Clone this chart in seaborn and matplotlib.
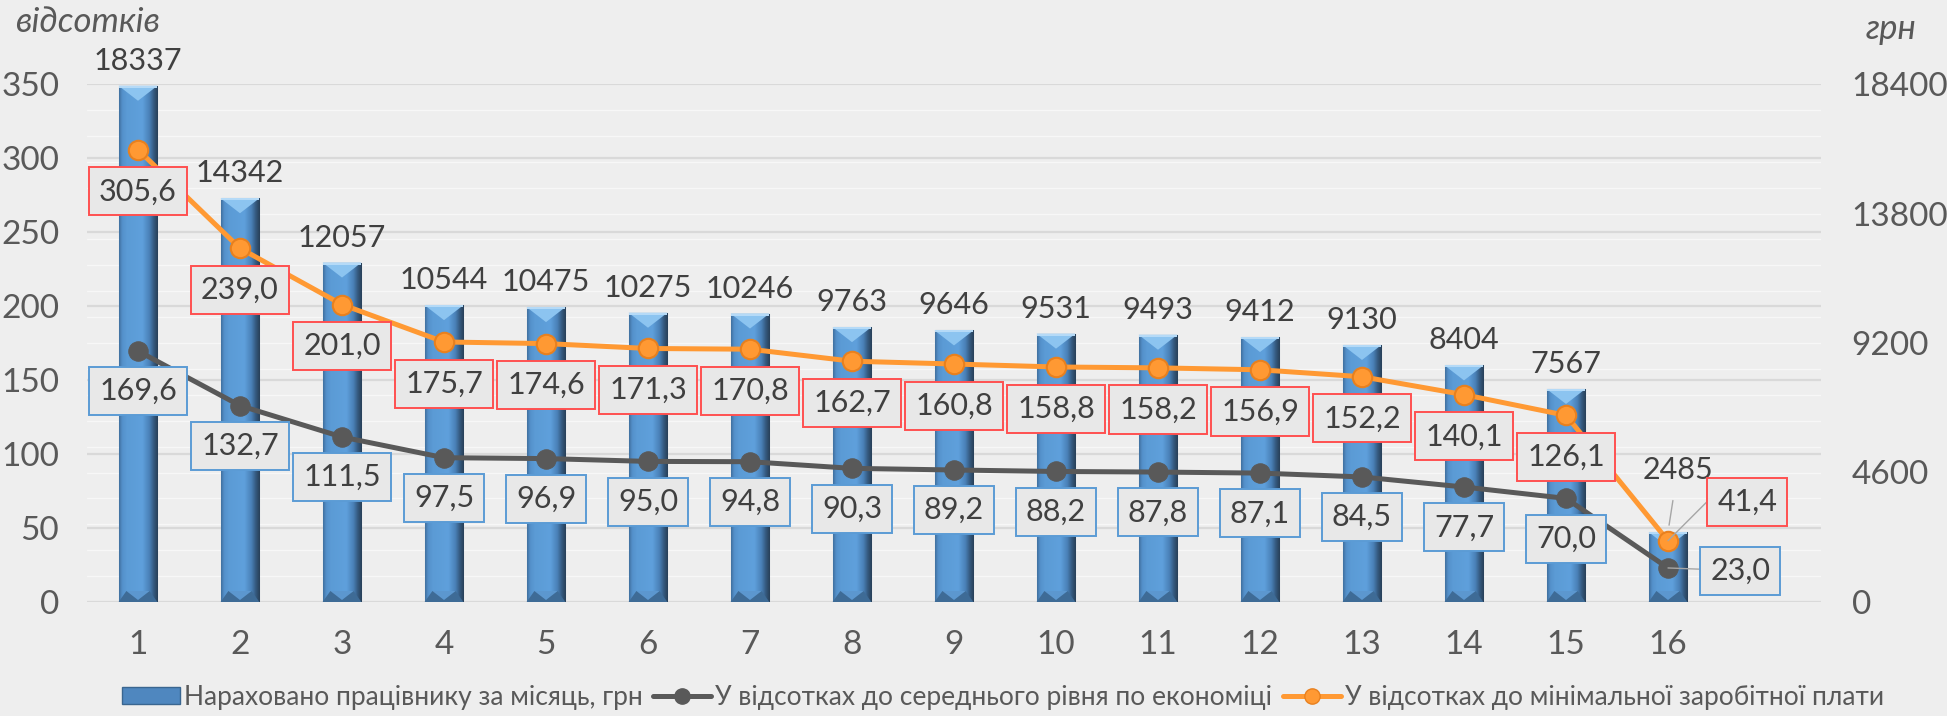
import numpy as np
import pandas as pd
import matplotlib
matplotlib.use("Agg")
import matplotlib.pyplot as plt
import seaborn as sns
from matplotlib.colors import LinearSegmentedColormap
from matplotlib.patches import Polygon, Patch
from matplotlib.lines import Line2D

# ---------------- data ----------------
categories = [str(i) for i in range(1, 17)]
salary = [18337, 14342, 12057, 10544, 10475, 10275, 10246, 9763,
          9646, 9531, 9493, 9412, 9130, 8404, 7567, 2485]
pct_avg = [169.6, 132.7, 111.5, 97.5, 96.9, 95.0, 94.8, 90.3,
           89.2, 88.2, 87.8, 87.1, 84.5, 77.7, 70.0, 23.0]
pct_min = [305.6, 239.0, 201.0, 175.7, 174.6, 171.3, 170.8, 162.7,
           160.8, 158.8, 158.2, 156.9, 152.2, 140.1, 126.1, 41.4]
left_ticks = [0, 50, 100, 150, 200, 250, 300, 350]
right_ticks = [0, 4600, 9200, 13800, 18400]
name_bar = "Нараховано працівнику за місяць, грн"
name_avg = "У відсотках до середнього рівня по економіці"
name_min = "У відсотках до мінімальної заробітної плати"
title_left = "відсотків"
title_right = "грн"

# ---------------- style ----------------
sns.set_theme(style="white")
plt.rcParams["font.family"] = ["Lato", "DejaVu Sans"]
BG = "#EEEEEE"
TXT = "#595959"
LBL = "#404040"
GREY = "#595959"
ORANGE = "#FF9933"
BLUE = "#5B9BD5"
TICK_FS = 24
LBL_FS = 22
BAR_FS = 22

W, H = 1947, 716
fig = plt.figure(figsize=(W / 100, H / 100), dpi=100, facecolor=BG)
ax = fig.add_axes([87 / W, 1 - 602 / H, (1821 - 87) / W, (602 - 84) / H])
ax.set_facecolor(BG)

df = pd.DataFrame({"cat": categories, "salary": salary,
                   "avg": pct_avg, "min": pct_min})
df["pos"] = np.arange(len(df))

sns.barplot(data=df, x="cat", y="salary", ax=ax, color=BLUE, width=0.38,
            saturation=1, edgecolor="#9DB3C9", linewidth=0.8, zorder=2)

ymax_r = right_ticks[-1]
ymax_l = left_ticks[-1]
px_y = ymax_r / 518.0     # data units per pixel (right axis)

# gridlines (behind bars)
for v in np.arange(0, ymax_r + 1, right_ticks[1] / 5):
    ax.axhline(v, color="#F7F7F7", lw=1.0, zorder=0.5)
for v in left_ticks:
    ax.axhline(v * ymax_r / ymax_l, color="#D9D9D9", lw=1.6, zorder=0.6)

# 3D bevel look for the bars
cmap = LinearSegmentedColormap.from_list(
    "bev", [(0.0, "#3F6E9C"), (0.08, "#5490CA"), (0.2, "#5B9BD5"),
            (0.6, "#5FA0DC"), (0.78, "#4A81B8"), (0.9, "#34587D"),
            (1.0, "#283F57")])
grad = np.linspace(0, 1, 256).reshape(1, -1)
bars = [p for p in ax.patches]
for p in bars:
    x0, w, h = p.get_x(), p.get_width(), p.get_height()
    im = ax.imshow(grad, cmap=cmap, extent=(x0, x0 + w, 0, h),
                   aspect="auto", zorder=2.05, interpolation="bicubic")
    im.set_clip_path(p)
    bh = 15 * px_y
    ax.add_patch(Polygon([(x0, h), (x0 + w, h), (x0 + w / 2, h - bh)],
                         closed=True, fc="#8CC4F0", ec="none", zorder=2.1))
    ax.add_patch(Polygon([(x0, h), (x0 + w, h), (x0 + w, h - 2 * px_y), (x0, h - 2 * px_y)],
                         closed=True, fc="#B5DAF7", ec="none", zorder=2.11))
    bb = 11 * px_y
    ax.add_patch(Polygon([(x0, 0), (x0 + w, 0), (x0 + w * 0.8, bb), (x0 + w * 0.2, bb)],
                         closed=True, fc="#3E6B96", ec="none", zorder=2.1))
    ax.add_patch(Polygon([(x0 + w * 0.2, bb), (x0 + w * 0.8, bb), (x0 + w * 0.5, 2 * px_y)],
                         closed=True, fc="#5C97CF", ec="none", zorder=2.12))

ax.set_xlim(-0.5, len(categories) + 0.5)
ax.set_ylim(0, ymax_r)
ax.set_xlabel("")
ax.set_ylabel("")
for s in ax.spines.values():
    s.set_visible(False)

# bar value labels
for i, v in enumerate(salary):
    if i == len(salary) - 1:
        ax.annotate(str(v), (i, v), xytext=(7, 45), textcoords="offset points",
                    ha="center", va="center", fontsize=BAR_FS, color=LBL, zorder=6,
                    annotation_clip=False,
                    arrowprops=dict(arrowstyle="-", color="#A6A6A6", lw=1,
                                    shrinkA=10, shrinkB=-5))
    else:
        ax.annotate(str(v), (i, v), xytext=(0, 18), textcoords="offset points",
                    ha="center", va="center", fontsize=BAR_FS, color=LBL, zorder=6,
                    annotation_clip=False)

# percentage axis (left), money axis moved right
ax2 = ax.twinx()
ax2.set_ylim(0, ymax_l)
ax2.set_yticks(left_ticks)
ax2.set_yticklabels([str(t) for t in left_ticks])
ax2.yaxis.tick_left()
for s in ax2.spines.values():
    s.set_visible(False)
ax2.tick_params(axis="y", length=0, labelsize=TICK_FS, labelcolor=TXT, pad=20)
ax2.grid(False)

ax.yaxis.tick_right()
ax.set_yticks(right_ticks)
ax.set_yticklabels([str(t) for t in right_ticks])
ax.tick_params(axis="both", length=0, labelsize=TICK_FS, labelcolor=TXT)
ax.tick_params(axis="y", pad=22, left=False, labelleft=False,
               right=False, labelright=True)
ax.tick_params(axis="x", pad=20)

sns.lineplot(data=df, x="pos", y="avg", ax=ax2, color=GREY, lw=3.6,
             marker="o", markersize=14, markeredgecolor=GREY, zorder=3)
sns.lineplot(data=df, x="pos", y="min", ax=ax2, color=ORANGE, lw=3.6,
             marker="o", markersize=14, markerfacecolor=ORANGE,
             markeredgecolor="#E8801E", markeredgewidth=1.5, zorder=3)
ax2.set_xlabel("")
ax2.set_ylabel("")
ax2.set_xlim(-0.5, len(categories) + 0.5)


def fmt(v):
    return f"{v:.1f}".replace(".", ",")


n = len(categories)
for i in range(n):
    last = i == n - 1
    kw = dict(textcoords="offset points", ha="center", va="center",
              fontsize=LBL_FS, color=LBL, zorder=7, annotation_clip=False,
              bbox=dict(boxstyle="square,pad=0.33", fc="#E8E8E8",
                        ec="#FF5050", lw=1.4))
    if last:
        ax2.annotate(fmt(pct_min[i]), (i, pct_min[i]), xytext=(57, 28),
                     arrowprops=dict(arrowstyle="-", color="#A6A6A6", lw=1,
                                     shrinkA=0, shrinkB=0,
                                     connectionstyle="angle,angleA=0,angleB=45,rad=0"),
                     **kw)
    else:
        ax2.annotate(fmt(pct_min[i]), (i, pct_min[i]), xytext=(0, -30), **kw)
    kw["bbox"] = dict(boxstyle="square,pad=0.33", fc="#E8E8E8",
                      ec="#5B9BD5", lw=1.4)
    if last:
        ax2.annotate(fmt(pct_avg[i]), (i, pct_avg[i]), xytext=(52, -2),
                     arrowprops=dict(arrowstyle="-", color="#A6A6A6", lw=1,
                                     shrinkA=0, shrinkB=0),
                     **kw)
    else:
        ax2.annotate(fmt(pct_avg[i]), (i, pct_avg[i]), xytext=(0, -29), **kw)

# axis titles
fig.text(88 / W, 1 - 22 / H, title_left, style="italic", fontsize=25,
         ha="center", va="center", color=TXT)
fig.text(1891 / W, 1 - 29 / H, title_right, style="italic", fontsize=25,
         ha="center", va="center", color=TXT)

# legend
handles = [Patch(facecolor="#4F87BF", edgecolor="#3A6690"),
           Line2D([0], [0], color=GREY, lw=3.6, marker="o", ms=11),
           Line2D([0], [0], color=ORANGE, lw=3.6, marker="o", ms=11,
                  markeredgecolor="#E8801E")]
fig.legend(handles, [name_bar, name_avg, name_min], loc="center",
           bbox_to_anchor=(1003 / W, 1 - 697 / H), ncol=3, frameon=False,
           fontsize=19, handlelength=2.2, handleheight=0.6,
           handletextpad=0.15, columnspacing=0.4, labelcolor=TXT)

fig.savefig("out.png", dpi=100, facecolor=BG)
